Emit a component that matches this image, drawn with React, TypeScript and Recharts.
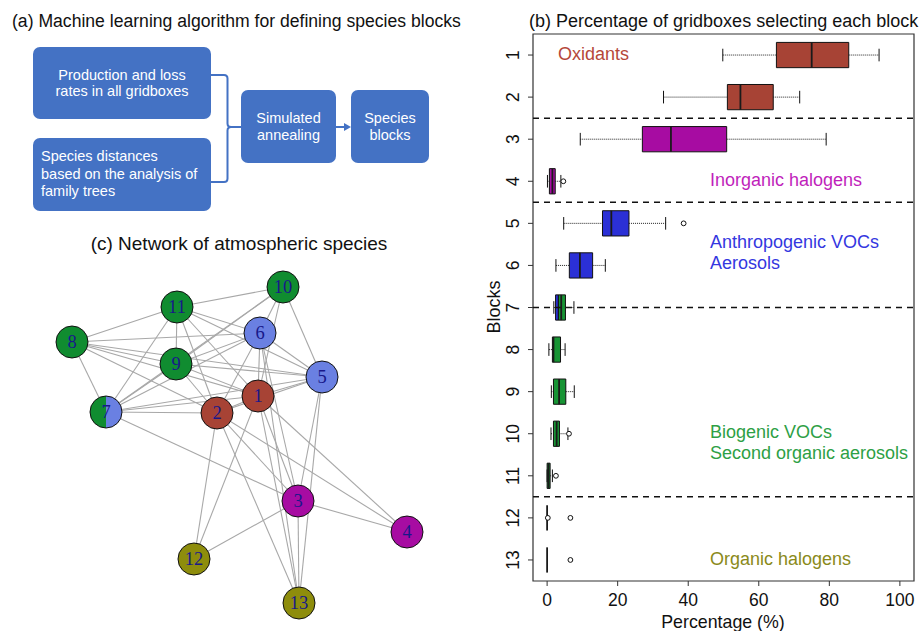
import React from "react";
import {
  ComposedChart,
  ScatterChart,
  Scatter,
  XAxis,
  YAxis,
  ReferenceArea,
  ReferenceLine,
} from "recharts";

// ---- panel (b) box plot data (percent of gridboxes) ----
const blocks = [1, 2, 3, 4, 5, 6, 7, 8, 9, 10, 11, 12, 13];
const whiskerLo = [49.8, 33, 9.4, 0.1, 4.7, 2.5, 1.9, 0.5, 1.2, 1.1, 0, 0, 0];
const q1 = [65, 51.1, 27, 0.65, 15.7, 6.3, 2.4, 1.5, 1.8, 1.8, 0, 0, 0];
const median = [75, 54.8, 35.1, 1.5, 18.2, 9.3, 4.0, 1.8, 3.4, 2.7, 0.4, 0, 0];
const q3 = [85.5, 64.1, 50.9, 2.3, 23.2, 12.9, 5.2, 3.8, 5.3, 3.5, 0.85, 0, 0];
const whiskerHi = [94.1, 71.6, 79.1, 3.9, 33.6, 16.5, 7.6, 5.1, 7.7, 5.9, 1.5, 0, 0];
const outliers = [
  { x: 4.6, y: 4 },
  { x: 38.7, y: 5 },
  { x: 6.2, y: 10 },
  { x: 2.5, y: 11 },
  { x: 0.2, y: 12 },
  { x: 6.6, y: 12 },
  { x: 6.6, y: 13 },
];
const separators = [2.5, 4.5, 7, 11.5];
const block7Split = 3.2; // blue part of block 7 ends here
const xTicks = [0, 20, 40, 60, 80, 100];

const BROWN = "#a74335";
const PURPLE = "#a70ca2";
const BLUE = "#2b30d6";
const GREEN = "#179434";
const OLIVE = "#8c8b0f";
const boxColors = [BROWN, BROWN, PURPLE, PURPLE, BLUE, BLUE, GREEN, GREEN, GREEN, GREEN, GREEN, OLIVE, OLIVE];

// ---- panel (c) network data ----
const nodes = [
  { id: 1, x: 258, y: 396, fill: BROWN },
  { id: 2, x: 217, y: 413, fill: BROWN },
  { id: 3, x: 298, y: 501, fill: PURPLE },
  { id: 4, x: 407, y: 532, fill: PURPLE },
  { id: 5, x: 322, y: 377, fill: "#6a80e2" },
  { id: 6, x: 260, y: 333, fill: "#6a80e2" },
  { id: 7, x: 106, y: 412, fill: "#108c30", fill2: "#6a80e2" },
  { id: 8, x: 72, y: 342, fill: "#108c30" },
  { id: 9, x: 176, y: 364, fill: "#108c30" },
  { id: 10, x: 283, y: 287, fill: "#108c30" },
  { id: 11, x: 177, y: 307, fill: "#108c30" },
  { id: 12, x: 194, y: 559, fill: "#8e8d0c" },
  { id: 13, x: 299, y: 603, fill: "#8e8d0c" },
];
const edges = [
  [1, 2], [1, 3], [1, 4], [1, 5], [1, 6], [1, 7], [1, 8], [1, 9], [1, 10], [1, 11], [1, 12], [1, 13],
  [2, 3], [2, 4], [2, 5], [2, 6], [2, 7], [2, 8], [2, 9], [2, 11], [2, 12], [2, 13],
  [3, 4], [3, 5], [3, 6], [3, 7], [3, 12], [3, 13],
  [5, 6], [5, 7], [5, 8], [5, 9], [5, 10], [5, 11], [5, 13],
  [6, 7], [6, 8], [6, 9], [6, 10], [6, 11], [6, 13],
  [7, 8], [7, 9], [7, 10], [7, 11],
  [8, 9], [8, 11],
  [9, 10], [9, 11],
  [10, 11],
];

const SANS = "'Liberation Sans', Arial, Helvetica, sans-serif";
const SERIF = "'Liberation Serif', 'Times New Roman', serif";
const HALF = 0.3;
const CAP = 0.15;

const nodeById = (id: number) => nodes.find((n) => n.id === id)!;

const NodeShape = (props: any) => {
  const { cx, cy, payload } = props;
  const r = 16;
  return (
    <g>
      {payload.fill2 ? (
        <>
          <path d={`M${cx} ${cy - r} A${r} ${r} 0 0 0 ${cx} ${cy + r} Z`} fill={payload.fill} />
          <path d={`M${cx} ${cy - r} A${r} ${r} 0 0 1 ${cx} ${cy + r} Z`} fill={payload.fill2} />
          <circle cx={cx} cy={cy} r={r} fill="none" stroke="#111" strokeWidth={1} />
        </>
      ) : (
        <circle cx={cx} cy={cy} r={r} fill={payload.fill} stroke="#111" strokeWidth={1} />
      )}
      <text
        x={cx}
        y={cy}
        dy="0.35em"
        textAnchor="middle"
        fontFamily={SERIF}
        fontSize={18.5}
        fill="#18188a"
      >
        {payload.id}
      </text>
    </g>
  );
};

const OutlierShape = (props: any) => (
  <circle cx={props.cx} cy={props.cy} r={2.4} fill="#fff" stroke="#111" strokeWidth={1} />
);

const BlockTick = (props: any) => {
  const { x, y, payload } = props;
  return (
    <text
      x={x}
      y={y}
      transform={`rotate(-90 ${x} ${y})`}
      textAnchor="middle"
      dy="0.35em"
      fontFamily={SANS}
      fontSize={17.5}
      fill="#111"
    >
      {payload.value}
    </text>
  );
};

const boxStyle: React.CSSProperties = {
  position: "absolute",
  background: "#4472c4",
  borderRadius: 7,
  color: "#fff",
  fontFamily: SANS,
  fontSize: 14.5,
  display: "flex",
  flexDirection: "column",
  justifyContent: "center",
};

const label = (text: string, left: number, top: number, color: string) => (
  <div
    style={{
      position: "absolute",
      left,
      top: top - 11,
      lineHeight: "22px",
      fontSize: 18,
      fontFamily: SANS,
      color,
      whiteSpace: "nowrap",
    }}
  >
    {text}
  </div>
);

const App = () => {
  return (
    <div
      style={{
        position: "absolute",
        left: 0,
        top: 0,
        width: 922,
        height: 631,
        background: "#fff",
        overflow: "hidden",
      }}
    >
      {/* (a) flow diagram */}
      <div
        style={{
          position: "absolute",
          left: 12,
          top: 11,
          lineHeight: "20px",
          fontSize: 17.6,
          fontFamily: SANS,
          color: "#111",
          whiteSpace: "nowrap",
        }}
      >
        (a) Machine learning algorithm for defining species blocks
      </div>
      <div style={{ ...boxStyle, left: 33, top: 47, width: 178, height: 72, textAlign: "center", lineHeight: "16px" }}>
        <div>Production and loss</div>
        <div>rates in all gridboxes</div>
      </div>
      <div
        style={{
          ...boxStyle,
          left: 33,
          top: 138,
          width: 170,
          height: 73,
          paddingLeft: 8,
          textAlign: "left",
          lineHeight: "17.7px",
        }}
      >
        <div>Species distances</div>
        <div>based on the analysis of</div>
        <div>family trees</div>
      </div>
      <div style={{ ...boxStyle, left: 241, top: 90, width: 95, height: 73, textAlign: "center", lineHeight: "16.7px" }}>
        <div>Simulated</div>
        <div>annealing</div>
      </div>
      <div style={{ ...boxStyle, left: 351, top: 90, width: 78, height: 73, textAlign: "center", lineHeight: "16.7px" }}>
        <div>Species</div>
        <div>blocks</div>
      </div>
      <svg style={{ position: "absolute", left: 0, top: 0 }} width={480} height={220}>
        <path
          d="M211 75 H224 Q227.5 75 227.5 78.5 V123.5 Q227.5 127 231 127 H241 M211 182 H224 Q227.5 182 227.5 178.5 V130.5 Q227.5 127 231 127"
          fill="none"
          stroke="#4472c4"
          strokeWidth={2}
        />
        <line x1={336} y1={127} x2={345} y2={127} stroke="#4472c4" strokeWidth={2} />
        <polygon points="351,127 344,123 344,131" fill="#4472c4" />
      </svg>

      {/* (c) network */}
      <div
        style={{
          position: "absolute",
          left: 0,
          width: 478,
          top: 233,
          lineHeight: "22px",
          fontSize: 19,
          fontFamily: SANS,
          color: "#111",
          textAlign: "center",
        }}
      >
        (c) Network of atmospheric species
      </div>
      <div style={{ position: "absolute", left: 0, top: 220 }}>
        <ScatterChart width={480} height={411} margin={{ top: 0, right: 0, bottom: 0, left: 0 }}>
          <XAxis type="number" dataKey="x" domain={[0, 480]} hide />
          <YAxis type="number" dataKey="y" domain={[220, 631]} reversed hide />
          {edges.map(([a, b], i) => {
            const na = nodeById(a);
            const nb = nodeById(b);
            return (
              <Scatter
                key={`e${i}`}
                data={[
                  { x: na.x, y: na.y },
                  { x: nb.x, y: nb.y },
                ]}
                line={{ stroke: "#a8a8a8", strokeWidth: 1.1 }}
                shape={() => <g />}
                isAnimationActive={false}
              />
            );
          })}
          <Scatter data={nodes} shape={NodeShape} isAnimationActive={false} />
        </ScatterChart>
      </div>

      {/* (b) box plot */}
      <div
        style={{
          position: "absolute",
          left: 529,
          top: 10,
          lineHeight: "22px",
          fontSize: 18,
          fontFamily: SANS,
          color: "#111",
          whiteSpace: "nowrap",
        }}
      >
        (b) Percentage of gridboxes selecting each block
      </div>
      <div style={{ position: "absolute", left: 480, top: 0 }}>
        <ComposedChart width={442} height={631} margin={{ top: 34, right: 8, bottom: 0, left: 8 }}>
          <XAxis
            type="number"
            dataKey="x"
            domain={[-4, 104]}
            ticks={xTicks}
            allowDataOverflow
            axisLine={false}
            tickLine={{ stroke: "#333" }}
            tickSize={5}
            tickMargin={8}
            height={50}
            tick={{ fontSize: 17.5, fontFamily: SANS, fill: "#111" }}
          />
          <YAxis
            type="number"
            dataKey="y"
            domain={[0.5, 13.5]}
            reversed
            ticks={blocks}
            interval={0}
            allowDataOverflow
            axisLine={false}
            tickLine={{ stroke: "#333" }}
            tickSize={5}
            tickMargin={15}
            width={45}
            tick={<BlockTick />}
          />
          <ReferenceArea
            x1={-4}
            x2={104}
            y1={0.5}
            y2={13.5}
            fill="none"
            fillOpacity={0}
            stroke="#333"
            strokeWidth={1.2}
            ifOverflow="visible"
          />
          {separators.map((s) => (
            <ReferenceLine
              key={`sep${s}`}
              segment={[
                { x: -4, y: s },
                { x: 104, y: s },
              ]}
              stroke="#111"
              strokeWidth={1.5}
              strokeDasharray="6 5"
              ifOverflow="visible"
            />
          ))}
          {blocks.map((b, i) =>
            whiskerHi[i] > whiskerLo[i] ? (
              <React.Fragment key={`w${b}`}>
                <ReferenceLine
                  segment={[
                    { x: whiskerLo[i], y: b },
                    { x: q1[i], y: b },
                  ]}
                  stroke="#222"
                  strokeDasharray="1 1"
                  ifOverflow="visible"
                />
                <ReferenceLine
                  segment={[
                    { x: q3[i], y: b },
                    { x: whiskerHi[i], y: b },
                  ]}
                  stroke="#222"
                  strokeDasharray="1 1"
                  ifOverflow="visible"
                />
                <ReferenceLine
                  segment={[
                    { x: whiskerLo[i], y: b - CAP },
                    { x: whiskerLo[i], y: b + CAP },
                  ]}
                  stroke="#111"
                  ifOverflow="visible"
                />
                <ReferenceLine
                  segment={[
                    { x: whiskerHi[i], y: b - CAP },
                    { x: whiskerHi[i], y: b + CAP },
                  ]}
                  stroke="#111"
                  ifOverflow="visible"
                />
              </React.Fragment>
            ) : null
          )}
          {blocks.map((b, i) =>
            q3[i] > q1[i] ? (
              b === 7 ? (
                <React.Fragment key={`box${b}`}>
                  <ReferenceArea
                    x1={q1[i]}
                    x2={block7Split}
                    y1={b - HALF}
                    y2={b + HALF}
                    fill={BLUE}
                    fillOpacity={1}
                    stroke="#111"
                    strokeWidth={1}
                    ifOverflow="visible"
                  />
                  <ReferenceArea
                    x1={block7Split}
                    x2={q3[i]}
                    y1={b - HALF}
                    y2={b + HALF}
                    fill={GREEN}
                    fillOpacity={1}
                    stroke="#111"
                    strokeWidth={1}
                    ifOverflow="visible"
                  />
                </React.Fragment>
              ) : (
                <ReferenceArea
                  key={`box${b}`}
                  x1={q1[i]}
                  x2={q3[i]}
                  y1={b - HALF}
                  y2={b + HALF}
                  fill={boxColors[i]}
                  fillOpacity={1}
                  stroke="#111"
                  strokeWidth={1}
                  ifOverflow="visible"
                />
              )
            ) : null
          )}
          {blocks.map((b, i) => (
            <ReferenceLine
              key={`med${b}`}
              segment={[
                { x: median[i], y: b - HALF },
                { x: median[i], y: b + HALF },
              ]}
              stroke="#1a1a1a"
              strokeWidth={1.8}
              ifOverflow="visible"
            />
          ))}
          <Scatter data={outliers} shape={OutlierShape} isAnimationActive={false} />
        </ComposedChart>
      </div>
      <div
        style={{
          position: "absolute",
          left: 494 - 40,
          top: 307 - 11,
          width: 80,
          lineHeight: "22px",
          textAlign: "center",
          fontSize: 18,
          fontFamily: SANS,
          color: "#111",
          transform: "rotate(-90deg)",
        }}
      >
        Blocks
      </div>
      <div
        style={{
          position: "absolute",
          left: 723 - 80,
          width: 160,
          top: 611,
          lineHeight: "22px",
          textAlign: "center",
          fontSize: 17.8,
          fontFamily: SANS,
          color: "#111",
        }}
      >
        Percentage (%)
      </div>
      {label("Oxidants", 558, 54, "#b5473a")}
      {label("Inorganic halogens", 710, 180, "#c01fbb")}
      {label("Anthropogenic VOCs", 710, 242, "#3437e0")}
      {label("Aerosols", 710, 263, "#3437e0")}
      {label("Biogenic VOCs", 710, 432, "#2da045")}
      {label("Second organic aerosols", 710, 453, "#2da045")}
      {label("Organic halogens", 710, 559, "#8a8a1a")}
    </div>
  );
};

export default App;
